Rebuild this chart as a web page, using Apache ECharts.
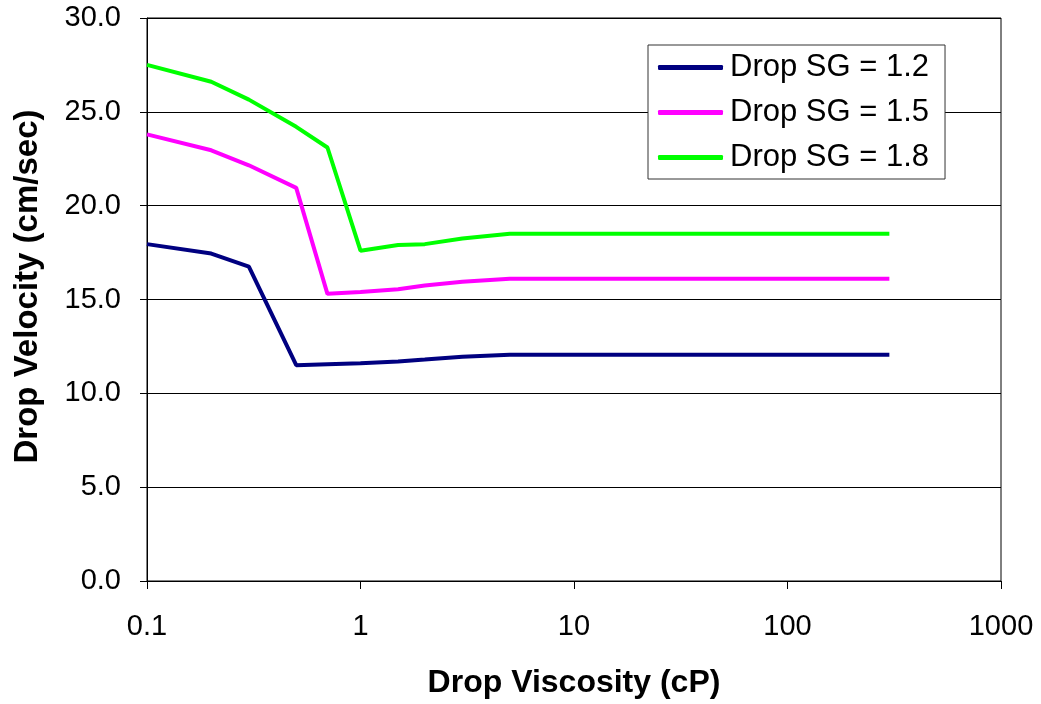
<!DOCTYPE html>
<html>
<head>
<meta charset="utf-8">
<script src="https://cdn.jsdelivr.net/npm/echarts@6/dist/echarts.min.js"></script>
<style>html,body{margin:0;padding:0;background:#fff}#c{width:1041px;height:704px}</style>
</head>
<body>
<div id="c"></div>
<script>
const viscosity = [0.1, 0.2, 0.3, 0.5, 0.7, 1, 1.5, 2, 3, 5, 10, 20, 50, 100, 200, 300];
const sg12 = [17.95, 17.45, 16.75, 11.5, 11.55, 11.6, 11.7, 11.8, 11.95, 12.05, 12.05, 12.05, 12.05, 12.05, 12.05, 12.05];
const sg15 = [23.8, 22.95, 22.15, 20.95, 15.3, 15.4, 15.55, 15.75, 15.95, 16.1, 16.1, 16.1, 16.1, 16.1, 16.1, 16.1];
const sg18 = [27.5, 26.6, 25.65, 24.2, 23.1, 17.6, 17.9, 17.95, 18.25, 18.5, 18.5, 18.5, 18.5, 18.5, 18.5, 18.5];
const seriesNames = ['Drop SG = 1.2', 'Drop SG = 1.5', 'Drop SG = 1.8'];
const colors = ['#000080', '#FF00FF', '#00FF00'];

const pairs = arr => viscosity.map((x, i) => [x, arr[i]]);
const font = 'Arial, "Liberation Sans", sans-serif';

const chart = echarts.init(document.getElementById('c'), null, {renderer: 'canvas'});
chart.setOption({
  animation: false,
  backgroundColor: '#fff',
  grid: {left: 147, right: 40, top: 18, bottom: 123, show: true, borderColor: '#000', borderWidth: 1, containLabel: false},
  legend: {
    left: 648, top: 45, orient: 'vertical',
    backgroundColor: '#fff', borderColor: '#333', borderWidth: 1,
    padding: [7, 16, 6, 10], itemGap: 14,
    itemWidth: 65, itemHeight: 5,
    icon: 'roundRect',
    textStyle: {fontFamily: font, fontSize: 31, lineHeight: 31, color: '#000', padding: [0, 0, 0, 2]},
    data: seriesNames
  },
  xAxis: {
    type: 'log', logBase: 10, min: 0.1, max: 1000,
    name: 'Drop Viscosity (cP)', nameLocation: 'middle', nameGap: 86,
    nameTextStyle: {fontFamily: font, fontSize: 32, fontWeight: 'bold', color: '#000'},
    axisLine: {show: true, lineStyle: {color: '#000', width: 1}},
    axisTick: {show: true, inside: false, length: 8, lineStyle: {color: '#000'}},
    minorTick: {show: false},
    splitLine: {show: false},
    axisLabel: {fontFamily: font, fontSize: 29, color: '#000', margin: 31,
      formatter: v => String(+v.toPrecision(6))}
  },
  yAxis: {
    type: 'value', min: 0, max: 30, interval: 5,
    name: 'Drop Velocity (cm/sec)', nameLocation: 'middle', nameGap: 103, nameRotate: 90,
    nameTextStyle: {fontFamily: font, fontSize: 33, fontWeight: 'bold', color: '#000', padding: [0, 0, 0, 26]},
    axisLine: {show: true, lineStyle: {color: '#000', width: 1}},
    axisTick: {show: true, length: 7, lineStyle: {color: '#000'}},
    splitLine: {show: true, lineStyle: {color: '#000', width: 1}},
    axisLabel: {fontFamily: font, fontSize: 29, color: '#000', margin: 26,
      formatter: v => v.toFixed(1)}
  },
  series: [sg12, sg15, sg18].map((arr, i) => ({
    name: seriesNames[i], type: 'line', data: pairs(arr),
    showSymbol: false, symbol: 'none',
    lineStyle: {color: colors[i], width: 4},
    itemStyle: {color: colors[i]}
  }))
});
</script>
</body>
</html>
